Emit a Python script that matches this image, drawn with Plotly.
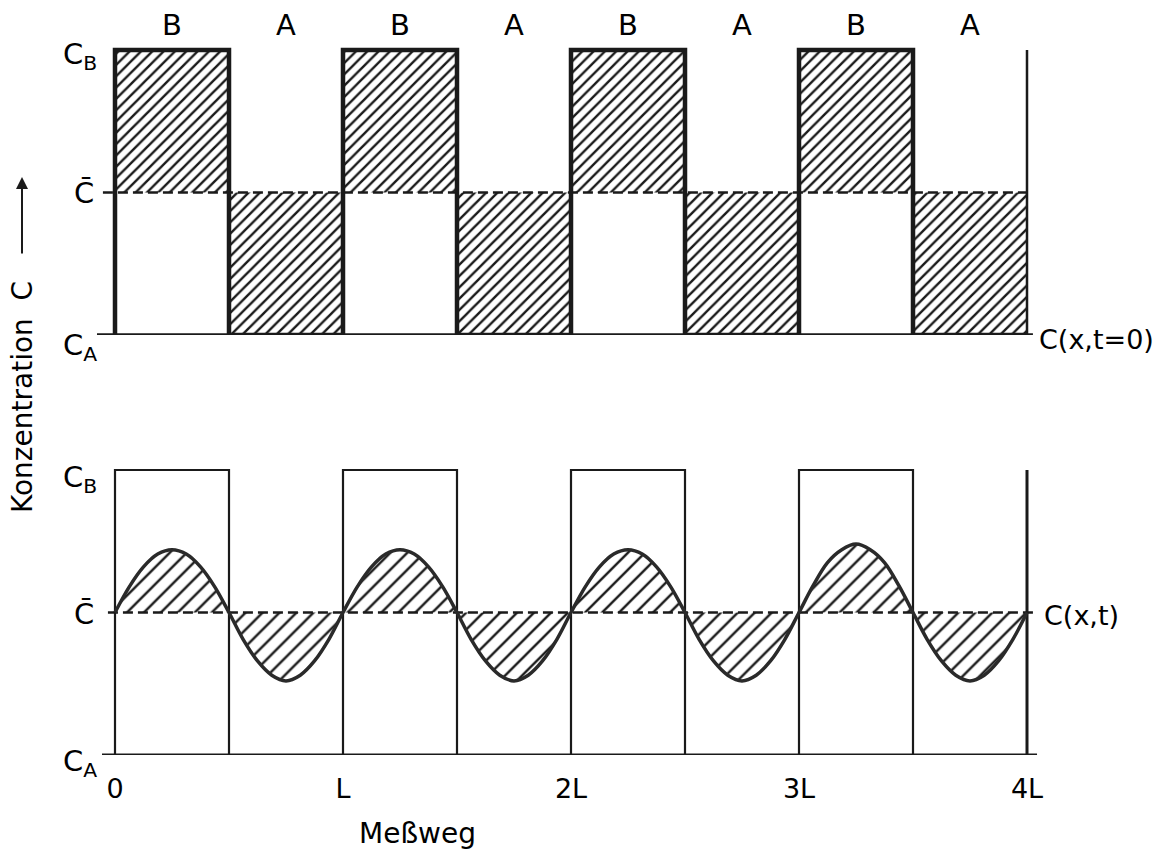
import plotly.graph_objects as go

# Concentration levels (normalised: C_A = 0, C_B = 1)
C_A = 0.0
C_B = 1.0
C_MEAN = 0.5

# Layer sequence along the path; each layer is half a period long (x in units of L)
LAYERS = ["B", "A", "B", "A", "B", "A", "B", "A"]
LAYER_EDGES = [0.0, 0.5, 1.0, 1.5, 2.0, 2.5, 3.0, 3.5, 4.0]

# Concentration profile C(x,t) after some diffusion, sampled every L/16
PROFILE_X = [0.0, 0.0625, 0.125, 0.1875, 0.25, 0.3125, 0.375, 0.4375,
             0.5, 0.5625, 0.625, 0.6875, 0.75, 0.8125, 0.875, 0.9375,
             1.0, 1.0625, 1.125, 1.1875, 1.25, 1.3125, 1.375, 1.4375,
             1.5, 1.5625, 1.625, 1.6875, 1.75, 1.8125, 1.875, 1.9375,
             2.0, 2.0625, 2.125, 2.1875, 2.25, 2.3125, 2.375, 2.4375,
             2.5, 2.5625, 2.625, 2.6875, 2.75, 2.8125, 2.875, 2.9375,
             3.0, 3.0625, 3.125, 3.1875, 3.25, 3.3125, 3.375, 3.4375,
             3.5, 3.5625, 3.625, 3.6875, 3.75, 3.8125, 3.875, 3.9375,
             4.0]
PROFILE_C = [0.50, 0.59, 0.66, 0.705, 0.72, 0.705, 0.66, 0.59,
             0.50, 0.405, 0.33, 0.28, 0.26, 0.28, 0.33, 0.405,
             0.50, 0.59, 0.66, 0.705, 0.72, 0.705, 0.66, 0.59,
             0.50, 0.405, 0.33, 0.28, 0.26, 0.28, 0.33, 0.405,
             0.50, 0.59, 0.66, 0.705, 0.72, 0.705, 0.66, 0.59,
             0.50, 0.405, 0.33, 0.28, 0.26, 0.28, 0.33, 0.405,
             0.50, 0.595, 0.675, 0.72, 0.74, 0.72, 0.675, 0.595,
             0.50, 0.405, 0.33, 0.28, 0.26, 0.28, 0.33, 0.405,
             0.50]

TICK_VALUES = [0, 1, 2, 3, 4]
TICK_LABELS = ["0", "L", "2L", "3L", "4L"]

# ---- page geometry (pixels) ----
W, H = 1163, 850
X0_PX, L_PX = 115, 228          # x = 0 position and length of one period
C_PX = 285                      # pixels from C_A to C_B
TOP_BASE_PX, BOT_BASE_PX = 335, 755
TOP_DOMAIN_TOP_PX, BOT_DOMAIN_TOP_PX = 0, 400

INK = "#1a1a1a"
FONT = "DejaVu Sans"
LEVEL = {"B": C_B, "A": C_A}


def y_domain(base_px, top_px):
    lo = (H - base_px) / H
    hi = (H - top_px) / H
    return [lo, hi], [0, (base_px - top_px) / C_PX]


top_dom, top_rng = y_domain(TOP_BASE_PX, TOP_DOMAIN_TOP_PX)
bot_dom, bot_rng = y_domain(BOT_BASE_PX, BOT_DOMAIN_TOP_PX)

# step outline of the initial layer structure
step_x, step_y = [LAYER_EDGES[0]], [C_A]
for i, layer in enumerate(LAYERS):
    step_x += [LAYER_EDGES[i], LAYER_EDGES[i + 1]]
    step_y += [LEVEL[layer], LEVEL[layer]]

fig = go.Figure()


def hatch(size, solidity):
    return dict(shape="/", size=size, solidity=solidity,
                fgcolor=INK, bgcolor="rgba(255,255,255,0)", fillmode="replace")


def line_trace(x, y, yaxis, width, dash=None, color=INK, shape="linear"):
    return go.Scatter(x=x, y=y, xaxis="x", yaxis=yaxis, mode="lines",
                      line=dict(color=color, width=width, dash=dash, shape=shape),
                      cliponaxis=False, hoverinfo="skip", showlegend=False)


# ---------- upper panel: C(x, t=0) ----------
for i, layer in enumerate(LAYERS):
    x0, x1 = LAYER_EDGES[i], LAYER_EDGES[i + 1]
    if layer == "B":
        lo, hi = C_MEAN, C_B
    else:
        lo, hi = C_A, C_MEAN
    fig.add_trace(go.Scatter(
        x=[x0, x1, x1, x0, x0], y=[lo, lo, hi, hi, lo],
        xaxis="x", yaxis="y", mode="lines", line=dict(width=0),
        fill="toself", fillcolor="rgba(255,255,255,0)",
        fillpattern=hatch(8, 0.3), cliponaxis=False,
        hoverinfo="skip", showlegend=False))

fig.add_trace(line_trace([-0.053, 4.013], [C_MEAN, C_MEAN], "y", 2.5, dash="10px,5px"))
fig.add_trace(line_trace([-0.079, 4.026], [C_A, C_A], "y", 3.5))
fig.add_trace(line_trace(step_x, step_y, "y", 4.5))
fig.add_trace(line_trace([LAYER_EDGES[-1]] * 2, [C_A, C_B], "y", 2.5))

# ---------- lower panel: C(x, t) ----------
fig.add_trace(line_trace([PROFILE_X[0], PROFILE_X[-1]], [C_MEAN, C_MEAN], "y2", 0,
                         color="rgba(0,0,0,0)"))
fig.add_trace(go.Scatter(
    x=PROFILE_X, y=PROFILE_C, xaxis="x", yaxis="y2", mode="lines",
    line=dict(width=0, shape="spline", color="rgba(0,0,0,0)"),
    fill="tonexty", fillcolor="rgba(255,255,255,0)",
    fillpattern=hatch(12, 0.2), cliponaxis=False,
    hoverinfo="skip", showlegend=False))
fig.add_trace(line_trace([-0.031, 4.035], [C_MEAN, C_MEAN], "y2", 2.5, dash="10px,5px"))
fig.add_trace(line_trace([-0.057, 4.044], [C_A, C_A], "y2", 3))
fig.add_trace(line_trace(step_x, step_y, "y2", 2.2))
fig.add_trace(line_trace([LAYER_EDGES[-1]] * 2, [C_A, C_B], "y2", 3))
fig.add_trace(line_trace(PROFILE_X, PROFILE_C, "y2", 3.5, color="#2a2a2a", shape="spline"))

# ---------- text ----------
ann = []


def label(text, x, y, yref, size=29, xanchor="center", xshift=0, yshift=0):
    ann.append(dict(text=text, x=x, y=y, xref="x", yref=yref, showarrow=False,
                    xanchor=xanchor, yanchor="middle", xshift=xshift, yshift=yshift,
                    font=dict(family=FONT, size=size, color="black")))


for i, layer in enumerate(LAYERS):
    label(layer, (LAYER_EDGES[i] + LAYER_EDGES[i + 1]) / 2, C_B, "y", size=29, yshift=25)

for yref, shifts in (("y", (-6, 0, -12)), ("y2", (-9, -1, -8))):
    label("C<sub>B</sub>", 0, C_B, yref, xanchor="right", xshift=-16, yshift=shifts[0])
    label("C\u0304", 0, C_MEAN, yref, xanchor="right", xshift=-19, yshift=shifts[1])
    label("C<sub>A</sub>", 0, C_A, yref, xanchor="right", xshift=-16, yshift=shifts[2])

label("C(x,t=0)", 4, C_A, "y", size=27, xanchor="left", xshift=10, yshift=-4)
label("C(x,t)", 4, C_MEAN, "y2", size=27, xanchor="left", xshift=15, yshift=-3)

ann.append(dict(text="Meßweg", x=417 / W, y=(H - 833) / H, xref="paper", yref="paper",
                showarrow=False, xanchor="center", yanchor="middle",
                font=dict(family=FONT, size=28, color="black")))
ann.append(dict(text="Konzentration\u00a0\u00a0C", x=22 / W, y=(H - 397) / H,
                xref="paper", yref="paper", showarrow=False, textangle=-90,
                xanchor="center", yanchor="middle",
                font=dict(family=FONT, size=28, color="black")))
ann.append(dict(text="", x=22 / W, y=(H - 177) / H, xref="paper", yref="paper",
                showarrow=True, ax=0, ay=78, arrowhead=2, arrowsize=1.2,
                arrowwidth=2, arrowcolor=INK))

fig.update_layout(
    width=W, height=H, margin=dict(l=0, r=0, t=0, b=0),
    paper_bgcolor="white", plot_bgcolor="white",
    showlegend=False, annotations=ann,
    xaxis=dict(domain=[0, 1], range=[-X0_PX / L_PX, (W - X0_PX) / L_PX],
               anchor="y2", showgrid=False, zeroline=False, showline=False,
               ticks="", tickvals=TICK_VALUES, ticktext=TICK_LABELS,
               ticklabelstandoff=15,
               tickfont=dict(family=FONT, size=27, color="black")),
    yaxis=dict(domain=top_dom, range=top_rng, anchor="x", visible=False),
    yaxis2=dict(domain=bot_dom, range=bot_rng, anchor="x", visible=False),
)

fig.write_html("out.html")
